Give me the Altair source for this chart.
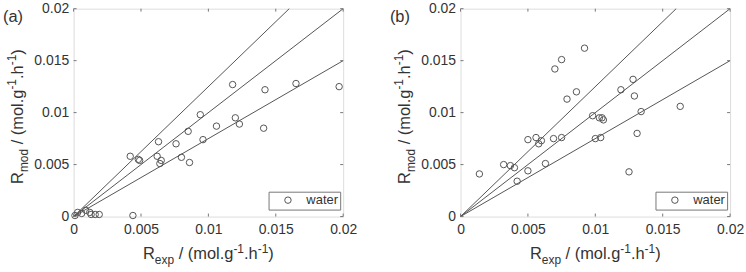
import altair as alt
import pandas as pd

# ---------------- data ----------------
a_exp = [0.0001, 0.0003, 0.0006, 0.0009, 0.0012, 0.0013, 0.0016, 0.0019, 0.0044,
         0.0118, 0.0142, 0.0165, 0.0197, 0.0094, 0.0120, 0.0123, 0.0106, 0.0141,
         0.0096, 0.0085, 0.0076, 0.0063, 0.0080, 0.0086, 0.0062, 0.0065, 0.0064,
         0.0042, 0.0048, 0.0049]
a_mod = [0.0001, 0.0004, 0.0003, 0.0006, 0.0004, 0.0002, 0.0002, 0.0002, 0.0001,
         0.0127, 0.0122, 0.0128, 0.0125, 0.0098, 0.0095, 0.0089, 0.0087, 0.0085,
         0.0074, 0.0082, 0.0070, 0.0072, 0.0057, 0.0052, 0.0058, 0.0054, 0.0051,
         0.0058, 0.0055, 0.0054]

b_exp = [0.0014, 0.0032, 0.0037, 0.0040, 0.0042, 0.0050, 0.0050, 0.0056, 0.0058,
         0.0060, 0.0063, 0.0069, 0.0075, 0.0070, 0.0075, 0.0092, 0.0086, 0.0079,
         0.0098, 0.0103, 0.0105, 0.0106, 0.0100, 0.0104, 0.0119, 0.0128, 0.0129,
         0.0134, 0.0131, 0.0125, 0.0163]
b_mod = [0.0041, 0.0050, 0.0049, 0.0047, 0.0034, 0.0044, 0.0074, 0.0076, 0.0070,
         0.0073, 0.0051, 0.0075, 0.0076, 0.0142, 0.0151, 0.0162, 0.0120, 0.0113,
         0.0097, 0.0095, 0.0095, 0.0093, 0.0075, 0.0076, 0.0122, 0.0132, 0.0116,
         0.0101, 0.0080, 0.0043, 0.0106]

ticks = [0, 0.005, 0.01, 0.015, 0.02]
line_x_end = [0.016, 0.02, 0.02]
line_y_end = [0.02, 0.02, 0.015]
series_name = "water"
panel_labels = ["(a)", "(b)"]

FONT = "Liberation Sans"
TXT = "#333333"
MARK = "#555555"
FRAME = "#777777"
W, H = 271, 209
TL = 3  # inward tick length

# Arial / Liberation Sans advance widths (per 1000 em)
ADV = {' ': 278, '(': 333, ')': 333, '.': 278, '/': 278, '-': 333, '1': 556,
       'R': 722, 'm': 833, 'o': 556, 'd': 556, 'l': 222, 'g': 556, 'h': 556,
       'e': 556, 'x': 500, 'p': 556}
FS_MAIN, FS_SMALL = 16.5, 12
SUB_SHIFT, SUP_SHIFT = 5, -6.5


def tw(s, fs):
    return sum(ADV.get(c, 556) for c in s) * fs / 1000.0


def text_layer(s, x, y, fs, angle=0, baseline="alphabetic"):
    return alt.Chart(pd.DataFrame({"t": [s]})).mark_text(
        align="left", baseline=baseline, fontSize=fs, angle=angle,
        font=FONT, color=TXT
    ).encode(x=alt.value(x), y=alt.value(y), text="t:N")


def segments(sub):
    return [("R", "n"), (sub, "sub"), (" / (mol.g", "n"), ("-1", "sup"),
            (".h", "n"), ("-1", "sup"), (")", "n")]


def seg_fs(kind):
    return FS_MAIN if kind == "n" else FS_SMALL


def seg_shift(kind):
    return {"n": 0, "sub": SUB_SHIFT, "sup": SUP_SHIFT}[kind]


def split_lead(s, fs):
    body = s.lstrip(" ")
    return body, tw(s[: len(s) - len(body)], fs)


def x_title():
    segs = segments("exp")
    total = sum(tw(s, seg_fs(k)) for s, k in segs)
    cx = W / 2 - total / 2
    base_y = 252
    layers = []
    for s, k in segs:
        fs = seg_fs(k)
        body, lead = split_lead(s, fs)
        layers.append(text_layer(body, cx + lead, base_y + seg_shift(k), fs))
        cx += tw(s, fs)
    return layers


def y_title():
    segs = segments("mod")
    total = sum(tw(s, seg_fs(k)) for s, k in segs)
    cy = H / 2 + total / 2 + 4
    base_x = -51
    layers = []
    for s, k in segs:
        fs = seg_fs(k)
        body, lead = split_lead(s, fs)
        layers.append(text_layer(body, base_x + seg_shift(k), cy - lead, fs, angle=270))
        cy -= tw(s, fs)
    return layers


def panel(xs, ys, label):
    df = pd.DataFrame({"exp": xs, "mod": ys, "series": [series_name] * len(xs)})
    xsc = alt.Scale(domain=[0, 0.02], nice=False, padding=0, zero=True)
    ysc = alt.Scale(domain=[0, 0.02], nice=False, padding=0, zero=True)
    xaxis = alt.Axis(values=ticks, format="~g", title=None, domain=False, ticks=False,
                     grid=False, labelFontSize=14, labelFont=FONT, labelColor=TXT,
                     labelPadding=6, labelFlush=False, labelOverlap=False)
    yaxis = alt.Axis(values=ticks, format="~g", title=None, domain=False, ticks=False,
                     grid=False, labelFontSize=14, labelFont=FONT, labelColor=TXT,
                     labelPadding=5, labelFlush=False, labelOverlap=False)

    lines_df = pd.DataFrame({"x0": [0.0] * 3, "y0": [0.0] * 3,
                             "x1": line_x_end, "y1": line_y_end})
    lines = alt.Chart(lines_df).mark_rule(color=MARK, strokeWidth=1).encode(
        x=alt.X("x0:Q", scale=xsc, axis=xaxis),
        y=alt.Y("y0:Q", scale=ysc, axis=yaxis),
        x2="x1:Q", y2="y1:Q")

    pts = alt.Chart(df).mark_point(shape="circle", filled=False, size=42,
                                   strokeWidth=1, opacity=1).encode(
        x=alt.X("exp:Q", scale=xsc),
        y=alt.Y("mod:Q", scale=ysc),
        color=alt.Color("series:N", scale=alt.Scale(range=[MARK]),
                        legend=alt.Legend(title=None, orient="none", legendX=196,
                                          legendY=184, offset=0, strokeColor=FRAME,
                                          fillColor="white", padding=2,
                                          labelFontSize=13, labelFont=FONT,
                                          labelColor=TXT, symbolSize=42,
                                          symbolStrokeWidth=1, symbolType="circle",
                                          symbolOffset=11, labelOffset=12,
                                          labelExpr="datum.label + '\u00a0\u00a0'")))

    tdf = pd.DataFrame({"v": ticks})
    tk_bottom = alt.Chart(tdf).mark_rule(color=FRAME).encode(
        x=alt.X("v:Q", scale=xsc), y=alt.value(H), y2=alt.value(H - TL))
    tk_top = alt.Chart(tdf).mark_rule(color=FRAME).encode(
        x=alt.X("v:Q", scale=xsc), y=alt.value(0), y2=alt.value(TL))
    tk_left = alt.Chart(tdf).mark_rule(color=FRAME).encode(
        y=alt.Y("v:Q", scale=ysc), x=alt.value(0), x2=alt.value(TL))
    tk_right = alt.Chart(tdf).mark_rule(color=FRAME).encode(
        y=alt.Y("v:Q", scale=ysc), x=alt.value(W), x2=alt.value(W - TL))

    lab = text_layer(label, -71, 8, 16.5, baseline="middle")

    layers = [lines, pts, tk_bottom, tk_top, tk_left, tk_right, lab] + x_title() + y_title()
    return alt.layer(*layers).properties(width=W, height=H)


pa = panel(a_exp, a_mod, panel_labels[0])
pb = panel(b_exp, b_mod, panel_labels[1])

chart = alt.hconcat(pa, pb, spacing=31).resolve_scale(color="independent").resolve_legend(
    color="independent").properties(
    padding={"left": 2, "top": 0, "right": 1, "bottom": 0}
).configure_view(stroke=FRAME, strokeWidth=1).configure(background="white")

chart.save("out.html", embed_options={"renderer": "svg", "actions": False})
